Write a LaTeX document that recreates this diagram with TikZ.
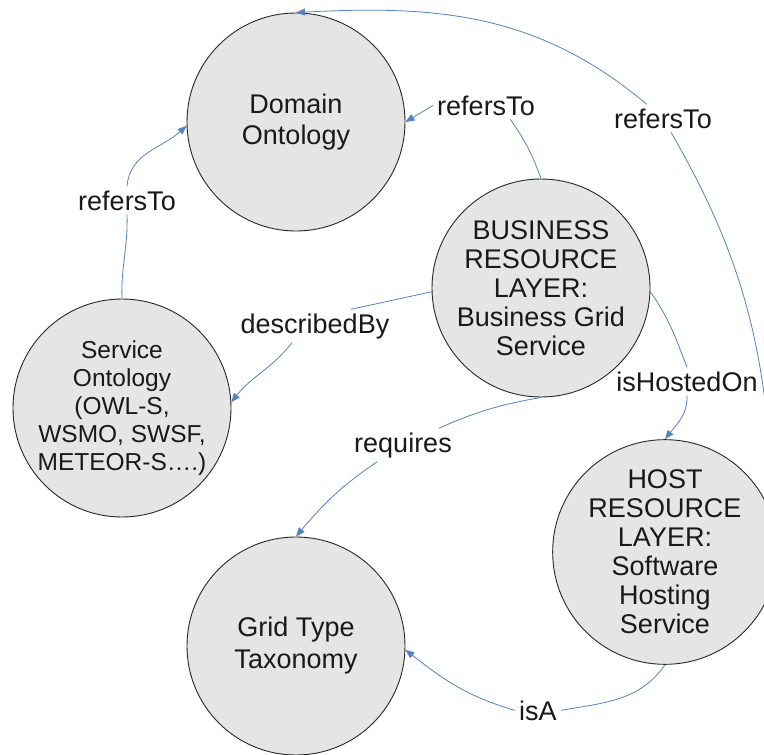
\documentclass[tikz,border=0pt]{standalone}
\usepackage{fontspec}
\setmainfont{Liberation Sans}
\usetikzlibrary{arrows.meta}
\definecolor{circfill}{RGB}{229,229,229}
\definecolor{circline}{RGB}{40,40,40}
\definecolor{connblue}{RGB}{84,130,190}
\definecolor{txt}{RGB}{25,25,25}
\tikzset{
  concept/.style={circle, draw=circline, line width=0.9pt, fill=circfill,
    minimum size=218pt, inner sep=0pt, align=center, text=txt,
    font=\fontsize{27}{29}\selectfont},
  lbl/.style={anchor=base, inner sep=4pt, text=txt, font=\fontsize{27}{29}\selectfont},
  conn/.style={draw=connblue, line width=0.8pt},
  arr/.style={conn, -{Triangle[length=9pt,width=7pt]}, fill=none},
}
\begin{document}
\begin{tikzpicture}[x=1pt, y=-1pt]
\useasboundingbox (0,0) rectangle (764,755);
\clip (0,0) rectangle (764,755);
\fill[white] (0,0) rectangle (764,755);

% concepts
\node[concept, font=\fontsize{27}{31}\selectfont] (dom) at (296,122) {Domain\\Ontology};
\node[concept] (bus) at (541,288) {BUSINESS\\RESOURCE\\LAYER:\\Business Grid\\Service};
\node[concept, font=\fontsize{24.5}{28}\selectfont] (so) at (122,408) {Service\\Ontology\\(OWL-S,\\WSMO, SWSF,\\METEOR-S….)};
\node[concept] (host) at (665,552) {HOST\\RESOURCE\\LAYER:\\Software\\Hosting\\Service};
\node[concept, font=\fontsize{27}{32}\selectfont] (grid) at (296,646) {Grid Type\\Taxonomy};

% labels
\node[lbl] (l1) at (127,210) {refersTo};
\node[lbl] (l2) at (486,115) {refersTo};
\node[lbl] (l7) at (663,128) {refersTo};
\node[lbl] (l3) at (315,333) {describedBy};
\node[lbl] (l4) at (403,452) {requires};
\node[lbl] (l5) at (687,391) {isHostedOn};
\node[lbl] (l6) at (538,720) {isA};

% Service -> Domain
\draw[conn] (so.north) to[out=92, in=-88] (l1.south);
\draw[arr] (l1.north) to[out=85, in=222] (dom.182);

% Business -> Domain
\draw[conn] (bus.north) to[out=110, in=-55] (l2.-30);
\draw[arr] (l2.west) -- (dom.east);

% Business -> Service
\draw[conn] (bus.-178) to[out=192, in=12] (l3.25);
\draw[arr] (l3.-144) to[out=232, in=52] (so.3);

% Business -> Grid
\draw[conn] (bus.south) to[out=190, in=24] (l4.25);
\draw[arr] (l4.-147) to[out=214, in=50] (grid.north);

% Business -> Host
\draw[conn] (bus.-2) to[out=-55, in=111] (l5.north);
\draw[arr] (l5.south) to[out=-88, in=52] (host.north);

% Host -> Grid
\draw[conn] (host.south) to[out=235, in=10] (l6.east);
\draw[arr] (l6.west) to[out=164, in=-38] (grid.-2);

% Host -> Domain (outer)
\draw[conn] (host.15) to[out=92, in=-60] (l7.-60);
\draw[arr] (l7.139) to[out=140, in=3] (dom.north);
\end{tikzpicture}
\end{document}
